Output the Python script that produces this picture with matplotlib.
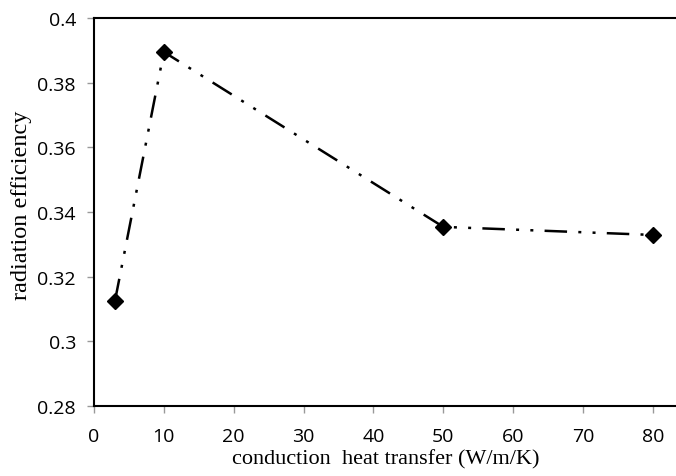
import matplotlib
matplotlib.use("Agg")
import matplotlib.pyplot as plt

x_vals = [3, 10, 50, 80]
y_vals = [0.3125, 0.3895, 0.3354, 0.3329]
x_ticks = [0, 10, 20, 30, 40, 50, 60, 70, 80]
y_ticks = [0.28, 0.3, 0.32, 0.34, 0.36, 0.38, 0.4]
y_tick_labels = ["0.28", "0.3", "0.32", "0.34", "0.36", "0.38", "0.4"]

fig = plt.figure(figsize=(6.76, 4.77), dpi=100)
ax = fig.add_axes([94/676, 70/477, 1 - 94/676 + 0.002, 388/477])
ax.plot(x_vals, y_vals, color="black", lw=1.8, dashes=(9, 4.5, 1.2, 4.5, 1.2, 4.5),
        marker="D", markersize=8, markerfacecolor="black", markeredgecolor="black")
ax.set_xlim(0, 83.5)
ax.set_ylim(0.28, 0.4)
ax.set_xticks(x_ticks)
ax.set_yticks(y_ticks)
ax.set_yticklabels(y_tick_labels)
for s in ["left", "bottom", "top"]:
    ax.spines[s].set_linewidth(1.5)
ax.spines["right"].set_visible(False)
ax.tick_params(axis="both", direction="out", length=5, width=1, color="#999999",
               labelsize=14)
ax.tick_params(axis="x", pad=10)
ax.tick_params(axis="y", pad=8)
for lab in ax.get_xticklabels() + ax.get_yticklabels():
    lab.set_fontfamily("Open Sans")
ax.set_xlabel("conduction  heat transfer (W/m/K)", fontfamily="Liberation Serif", fontsize=16, labelpad=3)
ax.set_ylabel("radiation efficiency", fontfamily="Liberation Serif", fontsize=17.5, labelpad=2)
ax.yaxis.set_label_coords(-0.107, 0.52)
fig.savefig("out.png", dpi=100)
